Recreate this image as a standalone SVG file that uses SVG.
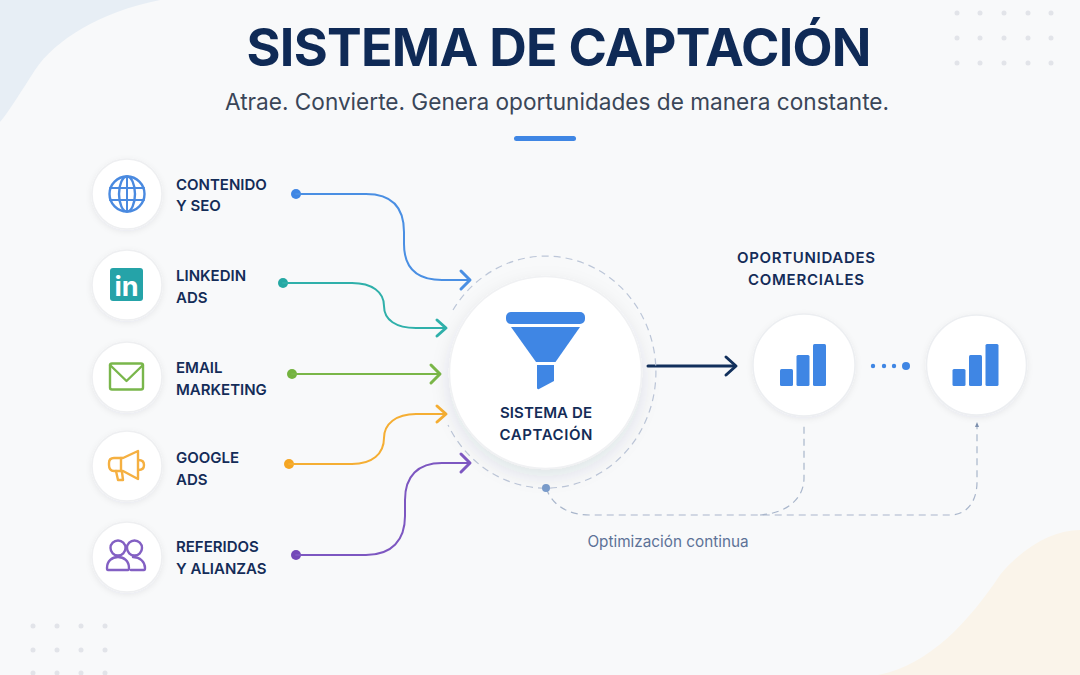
<svg xmlns="http://www.w3.org/2000/svg" width="1080" height="675" viewBox="0 0 1080 675">
<defs>
<filter id="sh" x="-30%" y="-30%" width="160%" height="160%"><feDropShadow dx="0" dy="2" stdDeviation="3" flood-color="#1a2a4a" flood-opacity="0.07"/></filter>
<filter id="shb" x="-30%" y="-30%" width="160%" height="170%"><feDropShadow dx="0" dy="7" stdDeviation="9" flood-color="#1a2a4a" flood-opacity="0.10"/></filter>
</defs>
<style>
text{font-family:Inter,"Liberation Sans",sans-serif}
.lb{font-size:15px;font-weight:600;fill:#142c58}
.ctr{font-size:15px;font-weight:600;fill:#142c58;text-anchor:middle}
.c{fill:#fff;stroke:#eeeff1;stroke-width:1.5;filter:url(#sh)}
.ln{fill:none;stroke-width:2;stroke-linecap:round;stroke-linejoin:round}
.ah{fill:none;stroke-width:3;stroke-linecap:round;stroke-linejoin:round}
.dash{fill:none;stroke:#a9b6cb;stroke-width:1.2;stroke-dasharray:7 5}
.ic{fill:none;stroke-width:2.4;stroke-linecap:round;stroke-linejoin:round}
.b{fill:#3f86e4}
.d{fill:#e2e4e9}
</style>
<rect width="1080" height="675" fill="#f8f9fa"/>
<path d="M0 0H160C100 12 55 40 35 70C22 90 10 110 0 122Z" fill="#e7eef5"/>
<path d="M878 675C930 665 970 620 1000 575C1025 545 1055 530 1080 530V675Z" fill="#faf4ea"/>
<g id="dots-tr" class="d">
<circle cx="957" cy="13" r="2.5"/><circle cx="980" cy="13" r="2.5"/><circle cx="1004" cy="13" r="2.5"/><circle cx="1028" cy="13" r="2.5"/><circle cx="1051" cy="13" r="2.5"/>
<circle cx="957" cy="38" r="2.5"/><circle cx="980" cy="38" r="2.5"/><circle cx="1004" cy="38" r="2.5"/><circle cx="1028" cy="38" r="2.5"/><circle cx="1051" cy="38" r="2.5"/>
<circle cx="957" cy="63" r="2.5"/><circle cx="980" cy="63" r="2.5"/><circle cx="1004" cy="63" r="2.5"/><circle cx="1028" cy="63" r="2.5"/><circle cx="1051" cy="63" r="2.5"/>
</g>
<g id="dots-bl" class="d">
<circle cx="33" cy="626" r="2.5"/><circle cx="57" cy="626" r="2.5"/><circle cx="81" cy="626" r="2.5"/><circle cx="105" cy="626" r="2.5"/>
<circle cx="33" cy="650" r="2.5"/><circle cx="57" cy="650" r="2.5"/><circle cx="81" cy="650" r="2.5"/><circle cx="105" cy="650" r="2.5"/>
<circle cx="33" cy="673" r="2.5"/><circle cx="57" cy="673" r="2.5"/><circle cx="81" cy="673" r="2.5"/><circle cx="105" cy="673" r="2.5"/>
</g>
<g id="header">
<text x="559" y="66" text-anchor="middle" font-size="52" font-weight="700" fill="#0f2a56" textLength="625">SISTEMA DE CAPTACIÓN</text>
<text x="557" y="110" text-anchor="middle" font-size="23" fill="#3a4658" textLength="664" lengthAdjust="spacingAndGlyphs">Atrae. Convierte. Genera oportunidades de manera constante.</text>
<rect x="514" y="136" width="62" height="5" rx="2.5" fill="#3f86e4"/>
</g>
<g id="connectors">
<g stroke="#4a8fe3"><circle cx="296" cy="194" r="5" fill="#3f86e4" stroke="none"/><path class="ln" d="M296 194H366C392 194 404 208 404 232V244C404 268 416 280 442 280H468"/><path class="ah" d="M461 271L470 280L461 289"/></g>
<g stroke="#2fb0aa"><circle cx="283" cy="283" r="5" fill="#25a8a3" stroke="none"/><path class="ln" d="M283 283H352C372 283 384 292 384 306C384 320 396 328 416 328H444"/><path class="ah" d="M437 320L446 328L437 336"/></g>
<g stroke="#7ab648"><circle cx="292" cy="374" r="5" fill="#74b33f" stroke="none"/><path class="ln" d="M292 374H438"/><path class="ah" d="M431 365L440 374L431 383"/></g>
<g stroke="#f5ae33"><circle cx="289" cy="464" r="5" fill="#f5a623" stroke="none"/><path class="ln" d="M289 464H352C372 464 384 454 384 438C384 424 396 414 416 414H444"/><path class="ah" d="M437 406L446 414L437 422"/></g>
<g stroke="#7d57c1"><circle cx="296" cy="555" r="5" fill="#7449b8" stroke="none"/><path class="ln" d="M296 555H366C392 555 405 540 405 516V500C405 476 418 463 442 463H468"/><path class="ah" d="M461 454L470 463L461 472"/></g>
<path d="M648 366H734" fill="none" stroke="#12305c" stroke-width="3" stroke-linecap="round"/>
<path class="ah" d="M726 357L736 366L726 375" stroke="#12305c"/>
<g fill="#3f86e4"><circle cx="873" cy="366" r="2.2"/><circle cx="884" cy="366" r="2.2"/><circle cx="894" cy="366" r="2.2"/><circle cx="906" cy="366" r="4"/></g>
<path class="dash" d="M546 488C552 504 566 515 590 515H950C968 515 977 500 977 482V424"/>
<path class="dash" d="M760 515C788 513 804 498 804 478V424"/>
<path d="M975 427L977 422L979 427Z" fill="#7d90ae"/>
</g>
<g id="node-contenido"><circle class="c" cx="127" cy="194" r="35"/>
<g class="ic" stroke="#4a8ae0"><circle cx="127" cy="194" r="17.5"/><ellipse cx="127" cy="194" rx="8" ry="17.5"/><path d="M127 176.500V211.500M110 188H144M110 200H144" stroke-width="2"/></g>
<text class="lb" x="176" y="190">CONTENIDO</text><text class="lb" x="176" y="211">Y SEO</text></g>
<g id="node-linkedin"><circle class="c" cx="127" cy="285" r="35"/>
<rect x="110" y="268" width="33" height="33" rx="3" fill="#25a3a8"/>
<text x="126.500" y="296" text-anchor="middle" font-size="27" font-weight="700" fill="#fff">in</text>
<text class="lb" x="176" y="281">LINKEDIN</text><text class="lb" x="176" y="303">ADS</text></g>
<g id="node-email"><circle class="c" cx="127" cy="377" r="35"/>
<g class="ic" stroke="#79b64b"><rect x="110" y="363.500" width="33" height="26" rx="2"/><path d="M110 365L126.500 381L143 365"/></g>
<text class="lb" x="176" y="373">EMAIL</text><text class="lb" x="176" y="395">MARKETING</text></g>
<g id="node-google"><circle class="c" cx="127" cy="466" r="35"/>
<g class="ic" stroke="#f5b041" stroke-width="2"><path d="M138 451V479L123 471H114C110 471 109 468 109 465V463C109 460 110 458 114 458H123Z"/><path d="M121 458V471M138.500 460C143 460 144 463 144 465C144 467 143 470 138.500 470M116 471L118 480H123L122 472"/></g>
<text class="lb" x="176" y="463">GOOGLE</text><text class="lb" x="176" y="485">ADS</text></g>
<g id="node-referidos"><circle class="c" cx="127" cy="557" r="35"/>
<g class="ic" stroke="#8360c3" stroke-width="2"><circle cx="118" cy="548" r="7.500"/><circle cx="134.500" cy="548" r="7.500"/><path d="M108 570H128C129 570 129 569 129 568C129 561 124 557 118 557C112 557 107 561 107 568C107 569 107 570 108 570Z"/><path d="M133 557C140 557 145 562 145 568C145 569 145 570 144 570H131"/></g>
<text class="lb" x="176" y="552">REFERIDOS</text><text class="lb" x="176" y="574">Y ALIANZAS</text></g>
<g id="node-sistema">
<path class="dash" d="M453 310A110 116 0 1 1 448 425" stroke-dasharray="9 7" style="stroke:#bcc6d8"/>
<circle cx="546" cy="488" r="4" fill="#7a9ccb"/>
<circle cx="545.500" cy="372.500" r="96" fill="#fff" stroke="#f0f1f3" stroke-width="1.5" filter="url(#shb)"/>
<rect x="506" y="312" width="79" height="12" rx="5" class="b"/>
<path d="M511 327H580L555.500 362H536Z" class="b"/>
<path d="M537 365H554V381L539 389C538 389.500 537 389 537 388Z" class="b"/>
<text class="ctr" x="546" y="418" textLength="92">SISTEMA DE</text><text class="ctr" x="546" y="440" textLength="93">CAPTACIÓN</text></g>
<g id="node-op1"><circle cx="804" cy="365" r="51" fill="#fff" stroke="#eceef1" stroke-width="1.5" filter="url(#sh)"/>
<rect x="780" y="369" width="13" height="17" rx="1.500" class="b"/><rect x="796.500" y="355" width="13" height="31" rx="1.500" class="b"/><rect x="813" y="344" width="13" height="42" rx="1.500" class="b"/></g>
<g id="node-op2"><circle cx="976.500" cy="365" r="50" fill="#fff" stroke="#eceef1" stroke-width="1.500" filter="url(#sh)"/>
<rect x="952.500" y="369" width="13" height="17" rx="1.500" class="b"/><rect x="969" y="355" width="13" height="31" rx="1.500" class="b"/><rect x="985.500" y="344" width="13" height="42" rx="1.500" class="b"/></g>
<text class="ctr" x="806" y="263" textLength="138">OPORTUNIDADES</text><text class="ctr" x="806" y="285" textLength="116">COMERCIALES</text>
<text x="668" y="547" text-anchor="middle" font-size="15.300" fill="#5d7297">Optimización continua</text>
</svg>
